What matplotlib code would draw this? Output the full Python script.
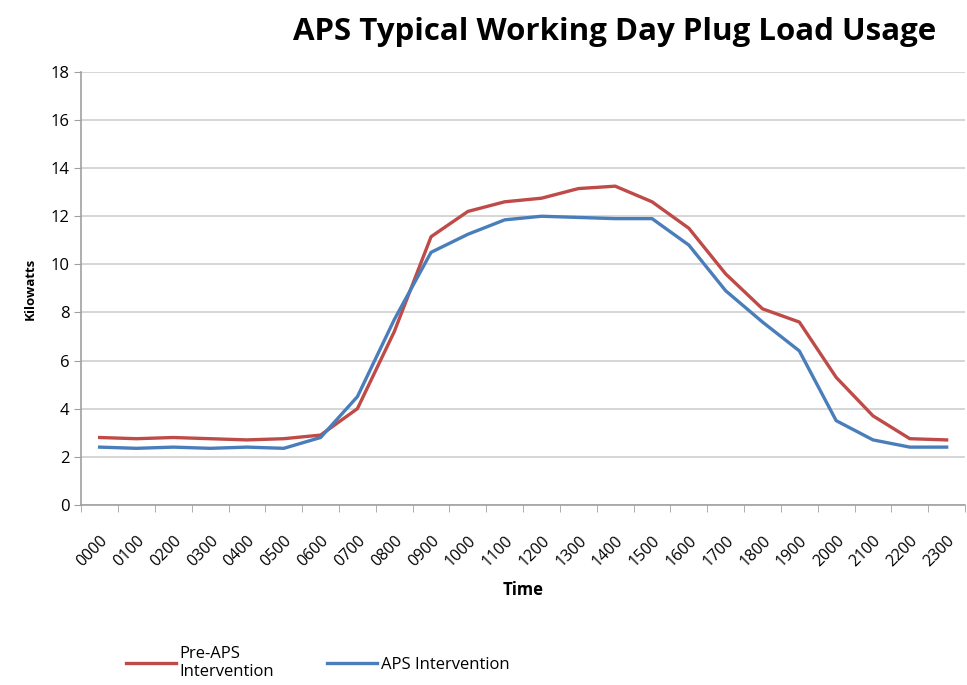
import matplotlib
matplotlib.use("Agg")
import matplotlib.pyplot as plt
import numpy as np

plt.rcParams['font.family'] = ['Open Sans', 'DejaVu Sans']

# hourly time slots
hours = ['0000', '0100', '0200', '0300', '0400', '0500', '0600', '0700',
         '0800', '0900', '1000', '1100', '1200', '1300', '1400', '1500',
         '1600', '1700', '1800', '1900', '2000', '2100', '2200', '2300']

# kilowatts
pre_aps = [2.8, 2.75, 2.8, 2.75, 2.7, 2.75, 2.9, 4.0, 7.2, 11.15, 12.2, 12.6,
           12.75, 13.15, 13.25, 12.6, 11.5, 9.6, 8.15, 7.6, 5.3, 3.7, 2.75, 2.7]
aps_int = [2.4, 2.35, 2.4, 2.35, 2.4, 2.35, 2.8, 4.5, 7.7, 10.5, 11.25, 11.85,
           12.0, 11.95, 11.9, 11.9, 10.8, 8.9, 7.6, 6.4, 3.5, 2.7, 2.4, 2.4]

fig = plt.figure(figsize=(9.67, 6.85), dpi=100)
ax = fig.add_axes([0.084, 0.263, 0.914, 0.632])

x = np.arange(len(hours))
ax.plot(x, pre_aps, color='#BE4B48', lw=2.4, label='Pre-APS\nIntervention')
ax.plot(x, aps_int, color='#4A7EBB', lw=2.4, label='APS Intervention')

ax.set_xlim(-0.5, len(hours) - 0.5)
ax.set_ylim(0, 18)
ax.set_yticks(range(0, 19, 2))
ax.grid(axis='y', color='#cfcfcf', lw=1.2)
ax.set_axisbelow(True)

ax.set_xticks(x)
ax.set_xticklabels(hours, rotation=45, ha='right', rotation_mode='anchor', fontsize=11.5)
ax.tick_params(axis='x', which='major', length=0, pad=20)
ax.set_xticks(np.arange(-0.5, len(hours), 1), minor=True)
ax.tick_params(axis='x', which='minor', length=5, color='#a0a0a0', direction='out')
ax.tick_params(axis='y', length=5, color='#a0a0a0', labelsize=12)

for s in ['top', 'right']:
    ax.spines[s].set_visible(False)
for s in ['left', 'bottom']:
    ax.spines[s].set_color('#a0a0a0')
    ax.spines[s].set_linewidth(1.2)

ax.set_xlabel('Time', fontweight='bold', fontsize=12, labelpad=8)
ax.set_ylabel('Kilowatts', fontweight='bold', fontsize=9.5, labelpad=10)

fig.suptitle('APS Typical Working Day Plug Load Usage', x=0.636, y=0.975,
             fontsize=22.5, fontweight='bold')

fig.legend(loc='lower left', bbox_to_anchor=(0.115, -0.015), ncol=2, frameon=False,
           fontsize=12, handlelength=3.0, handletextpad=0.2, columnspacing=3.2,
           labelspacing=0.3)

fig.savefig('out.png', dpi=100)
